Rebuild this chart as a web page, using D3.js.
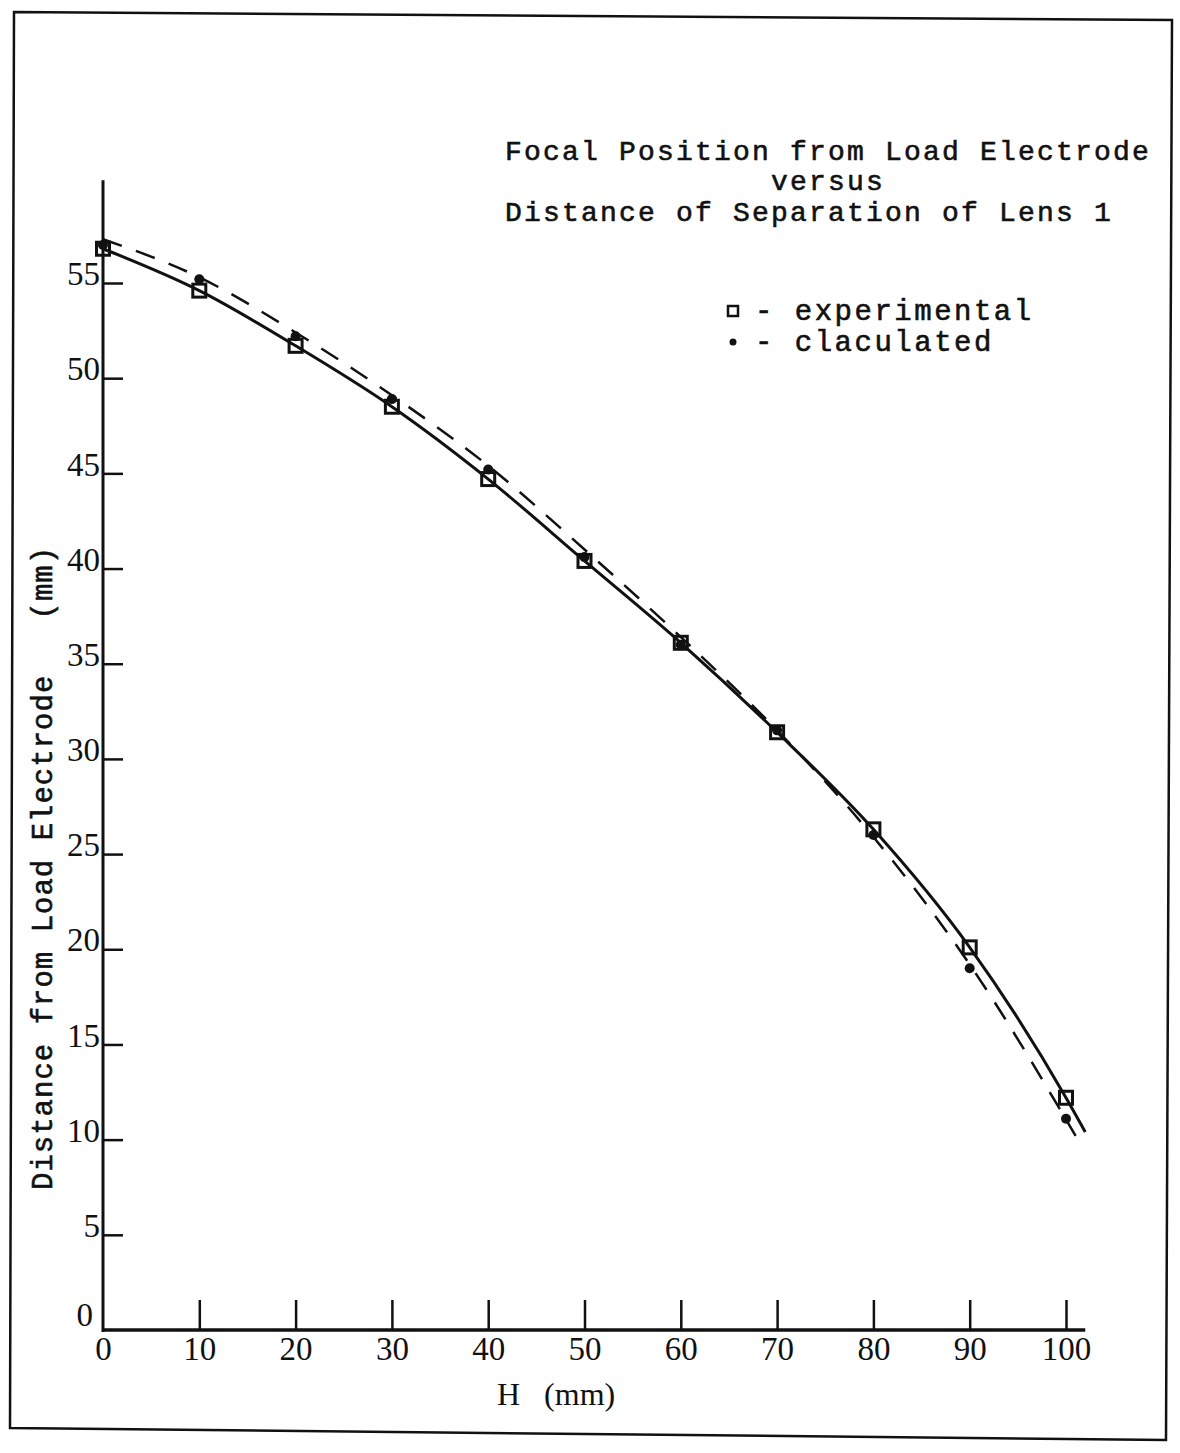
<!DOCTYPE html>
<html>
<head>
<meta charset="utf-8">
<script src="https://cdn.jsdelivr.net/npm/d3@7"></script>
<style>
  html, body { margin: 0; padding: 0; background: #fff; }
  svg text { white-space: pre; }
  .mono { font-family: "Liberation Mono", "DejaVu Sans Mono", monospace; fill: #111; stroke: #111; stroke-width: 0.6; }
  .tick text { font-family: "Liberation Serif", "DejaVu Serif", serif; fill: #111; }
</style>
</head>
<body>
<svg id="chart" width="1180" height="1453"></svg>
<script>
// values
const H = [0, 10, 20, 30, 40, 50, 60, 70, 80, 90, 100]
const experimental = [56.8, 54.6, 51.7, 48.5, 44.7, 40.4, 36.1, 31.4, 26.3, 20.1, 12.2]
const calculated = [57.0, 55.2, 52.2, 48.9, 45.2, 40.6, 36.0, 31.5, 26.0, 19.0, 11.1]

// hand drawn curves (solid through experimental, dashed through calculated)
const solidH = [0, 10, 20, 30, 40, 50, 60, 70, 80, 90, 100, 102]
const solidY = [56.8, 54.6, 51.7, 48.5, 44.7, 40.4, 36.1, 31.4, 26.3, 20.1, 12.2, 10.4]
const dashH = [0, 10, 20, 30, 40, 50, 60, 70, 80, 90, 101]
const dashY = [57.3, 55.3, 52.4, 49.1, 45.4, 41.0, 36.4, 31.5, 25.9, 19.2, 10.2]

const xTicks = [0, 10, 20, 30, 40, 50, 60, 70, 80, 90, 100]
const xTickLabels = ['0', '10', '20', '30', '40', '50', '60', '70', '80', '90', '100']
const yTicks = [0, 5, 10, 15, 20, 25, 30, 35, 40, 45, 50, 55]

const titleLines = ['Focal Position from Load Electrode', 'versus', 'Distance of Separation of Lens 1']
const legendItems = ['- experimental', '- claculated']

const svg = d3.select('#chart')

const x = d3.scaleLinear().domain([0, 100]).range([103, 1066])
const y = d3.scaleLinear().domain([0, 55]).range([1330, 283])

// page frame (scan is slightly skewed)
svg.append('path')
    .attr('d', 'M14,12 L1172,20 L1166,1440 L10,1428 Z')
    .attr('fill', 'none')
    .attr('stroke', '#111')
    .attr('stroke-width', 2.5)

// y axis: ticks go right, labels left
const yAxis = svg.append('g')
    .attr('transform', 'translate(' + x(0) + ',0)')
    .call(d3.axisLeft(y).tickValues(yTicks).tickSize(-20).tickPadding(3).tickFormat(d3.format('d')))
yAxis.select('.domain').remove()
yAxis.selectAll('.tick line').attr('stroke', '#111').attr('stroke-width', 2.5)
yAxis.selectAll('.tick').filter(d => d == 0).select('line').remove()
yAxis.selectAll('.tick text').attr('dy', '0.05em').style('font-size', '33px')
yAxis.selectAll('.tick').filter(d => d == 0).select('text').attr('dy', '-0.15em').attr('x', -10)

// x axis: ticks go up, labels below
const xAxis = svg.append('g')
    .attr('transform', 'translate(0,' + y(0) + ')')
    .call(d3.axisBottom(x).tickValues(xTicks).tickSize(-30).tickPadding(7).tickFormat((d, i) => xTickLabels[i]))
xAxis.select('.domain').remove()
xAxis.selectAll('.tick line').attr('stroke', '#111').attr('stroke-width', 2.5)
xAxis.selectAll('.tick').filter(d => d == 0).select('line').remove()
xAxis.selectAll('.tick text').style('font-size', '33px')

// axis lines
svg.append('line')
    .attr('x1', x(0)).attr('x2', x(0))
    .attr('y1', y(60.4)).attr('y2', y(0) + 2)
    .attr('stroke', '#111').attr('stroke-width', 3)
svg.append('line')
    .attr('x1', x(0)).attr('x2', x(102))
    .attr('y1', y(0)).attr('y2', y(0))
    .attr('stroke', '#111').attr('stroke-width', 3.5)

// curves
const line = d3.line()
    .x(d => x(d[0]))
    .y(d => y(d[1]))
    .curve(d3.curveMonotoneX)

svg.append('path')
    .datum(dashH.map((h, i) => [h, dashY[i]]))
    .attr('d', line)
    .attr('fill', 'none')
    .attr('stroke', '#111')
    .attr('stroke-width', 2.5)
    .attr('stroke-dasharray', '20,15')

svg.append('path')
    .datum(solidH.map((h, i) => [h, solidY[i]]))
    .attr('d', line)
    .attr('fill', 'none')
    .attr('stroke', '#111')
    .attr('stroke-width', 3)

// markers
svg.append('g').selectAll('circle')
    .data(H.map((h, i) => [h, calculated[i]]))
    .enter()
    .append('circle')
    .attr('cx', d => x(d[0]))
    .attr('cy', d => y(d[1]))
    .attr('r', 5)
    .attr('fill', '#111')

svg.append('g').selectAll('rect')
    .data(H.map((h, i) => [h, experimental[i]]))
    .enter()
    .append('rect')
    .attr('x', d => x(d[0]) - 6.5)
    .attr('y', d => y(d[1]) - 6.5)
    .attr('width', 13)
    .attr('height', 13)
    .attr('fill', 'none')
    .attr('stroke', '#111')
    .attr('stroke-width', 3)

// title
const titleSize = '28px', titleSpacing = '2.2px'
svg.append('text').attr('class', 'mono').attr('x', 505).attr('y', 160)
    .style('font-size', titleSize).style('letter-spacing', titleSpacing).text(titleLines[0])
svg.append('text').attr('class', 'mono').attr('x', 828).attr('y', 190)
    .attr('text-anchor', 'middle').style('font-size', titleSize).style('letter-spacing', titleSpacing).text(titleLines[1])
svg.append('text').attr('class', 'mono').attr('x', 505).attr('y', 221)
    .style('font-size', titleSize).style('letter-spacing', titleSpacing).text(titleLines[2])

// legend
const legend = svg.append('g').attr('transform', 'translate(733,311)')
legend.append('rect')
    .attr('x', -5).attr('y', -5).attr('width', 10).attr('height', 10)
    .attr('fill', 'none').attr('stroke', '#111').attr('stroke-width', 2.5)
legend.append('circle').attr('cx', 0).attr('cy', 31).attr('r', 3.5).attr('fill', '#111')
legend.selectAll('text.leg')
    .data(legendItems)
    .enter()
    .append('text')
    .attr('class', 'mono leg')
    .attr('x', 22)
    .attr('y', (d, i) => i * 31 + 9)
    .style('font-size', '29px')
    .style('letter-spacing', '2.5px')
    .text(d => d)

// axis titles
svg.append('text')
    .attr('class', 'mono')
    .attr('transform', 'translate(52,1190) rotate(-90)')
    .style('font-size', '29px')
    .style('letter-spacing', '1px')
    .text('Distance from Load Electrode   (mm)')

svg.append('text')
    .attr('x', 497).attr('y', 1405)
    .style('font-family', '"Liberation Serif", serif')
    .style('font-size', '32px')
    .attr('fill', '#111')
    .text('H   (mm)')
</script>
</body>
</html>
